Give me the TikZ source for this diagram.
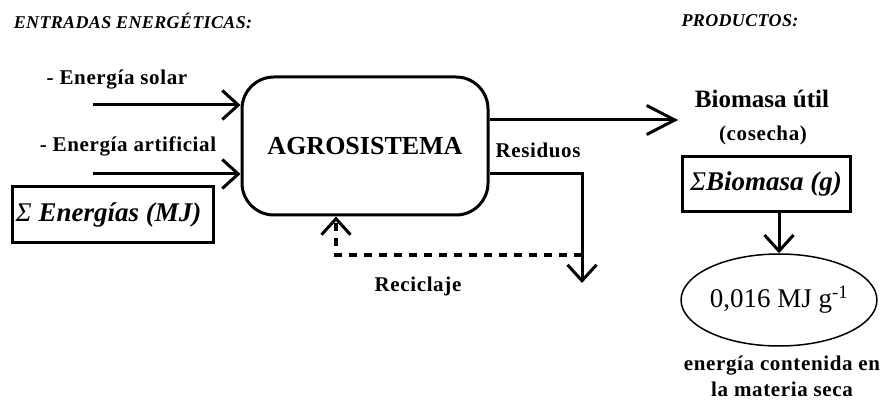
\documentclass[tikz,border=0pt]{standalone}
\usepackage{fontspec}
\setmainfont{Liberation Serif}
\newfontfamily\spaced[LetterSpace=3]{Liberation Serif}
\newfontfamily\hspaced[LetterSpace=2]{Liberation Serif}
\usetikzlibrary{arrows.meta,shapes.geometric}
\begin{document}
\begin{tikzpicture}[x=1pt,y=-1pt,
  arr/.style={line width=3pt,-{Straight Barb[length=16pt,width=29pt]}},
  bigarr/.style={line width=3pt,-{Straight Barb[length=28pt,width=29pt]}},
  recyc/.style={line width=3.5pt,dash pattern=on 8pt off 7pt,-{Straight Barb[length=16pt,width=29pt,line width=3pt]}},
  lbl/.style={font=\spaced\bfseries\fontsize{21}{23}\selectfont,inner sep=0pt},
  head/.style={font=\hspaced\bfseries\itshape\fontsize{18}{20}\selectfont,inner sep=0pt},
  sumbox/.style={draw,line width=3pt,font=\bfseries\itshape\fontsize{27}{30}\selectfont,inner sep=0pt}
]
\useasboundingbox (0,0) rectangle (888,403);

% headers
\node[head] (hin) at (133,21) {ENTRADAS ENERGÉTICAS:};
\node[head] (hout) at (740,21) {PRODUCTOS:};

% inputs
\node[lbl] (lsolar) at (117,80) {- Energía solar};
\node[lbl] (lart) at (128,146) {- Energía artificial};
\node[sumbox,minimum width=201pt,minimum height=56pt] (sumE) at (112.5,215)
  {{\mdseries Σ} Energías (MJ)\hspace*{8pt}};

% system
\node[draw,line width=3pt,rounded corners=32pt,minimum width=246pt,minimum height=138pt,
  font=\bfseries\fontsize{26}{30}\selectfont,inner sep=0pt] (agro) at (365,146) {AGROSISTEMA\\[0pt]};

\coordinate (s1) at (93,105);
\coordinate (s2) at (93,174);
\draw[arr] (s1) -- (s1 -| agro.west);
\draw[arr] (s2) -- (s2 -| agro.west);

% output
\coordinate (o1) at (488,120);
\coordinate (otip) at (678,120);
\draw[bigarr] (o1 -| agro.east) -- (otip);

% residues
\coordinate (r1) at (488,174);
\coordinate (rcorner) at (582,174);
\coordinate (rtip) at (582,283);
\draw[arr] (r1 -| agro.east) -- (rcorner) -- (rtip);
\node[lbl] (lres) at (538,150) {Residuos};

% recycling
\coordinate (c1) at (582,255);
\coordinate (c2) at (336,255);
\draw[recyc] (c1) -- (c2) -- (c2 |- agro.south);
\node[lbl] (lrec) at (418,286) {Reciclaje};

% products
\node[inner sep=0pt,font=\bfseries\fontsize{25}{28}\selectfont] (bio) at (762,99) {Biomasa útil};
\node[lbl] (cos) at (763,135) {(cosecha)};
\node[sumbox,minimum width=168pt,minimum height=55pt] (sumB) at (766,184.5)
  {{\mdseries Σ}Biomasa (g)};
\node[draw,ellipse,line width=1.5pt,minimum width=194pt,minimum height=92pt,inner sep=0pt,
  font=\fontsize{27}{29}\selectfont] (ell) at (779,300) {0,016 MJ g\textsuperscript{-1}};
\draw[arr] (sumB.south -| ell.north) -- (ell.north);

\node[lbl] (e1) at (782,366) {energía contenida en};
\node[lbl] (e2) at (782,389) {la materia seca};
\end{tikzpicture}
\end{document}
